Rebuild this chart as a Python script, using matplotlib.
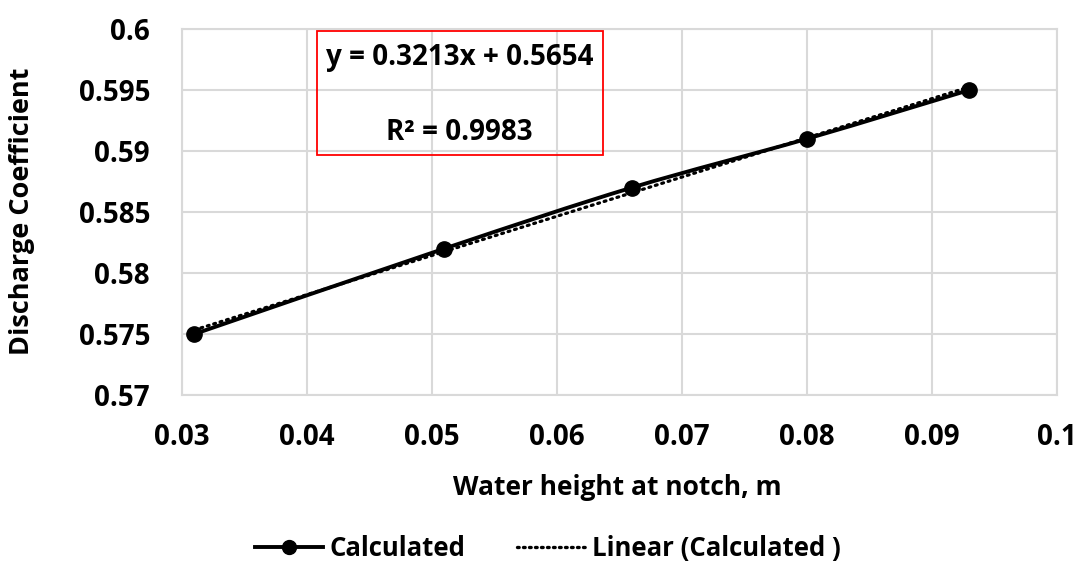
import matplotlib
matplotlib.use('Agg')
import matplotlib.pyplot as plt
from matplotlib.path import Path
from matplotlib.patches import PathPatch, Rectangle
from matplotlib.lines import Line2D
import numpy as np

# data
water_height = [0.031, 0.051, 0.066, 0.080, 0.093]
discharge_coef = [0.575, 0.582, 0.587, 0.591, 0.595]
x_ticks = [0.03, 0.04, 0.05, 0.06, 0.07, 0.08, 0.09, 0.1]
y_ticks = [0.57, 0.575, 0.58, 0.585, 0.59, 0.595, 0.6]
x_labels = ['0.03', '0.04', '0.05', '0.06', '0.07', '0.08', '0.09', '0.1']
y_labels = ['0.57', '0.575', '0.58', '0.585', '0.59', '0.595', '0.6']

plt.rcParams['font.family'] = ['Open Sans', 'DejaVu Sans']
plt.rcParams['font.weight'] = 'bold'

fig = plt.figure(figsize=(10.78, 5.68), dpi=100)
ax = fig.add_axes([0.1688, 0.3046, 0.8117, 0.6444])

x = np.array(water_height)
y = np.array(discharge_coef)

# smoothed series line (Excel-style cardinal spline as bezier segments)
verts = [(x[0], y[0])]
codes = [Path.MOVETO]
for i in range(len(x) - 1):
    p0 = (x[max(i - 1, 0)], y[max(i - 1, 0)])
    p1 = (x[i], y[i])
    p2 = (x[i + 1], y[i + 1])
    p3 = (x[min(i + 2, len(x) - 1)], y[min(i + 2, len(x) - 1)])
    c1 = (p1[0] + (p2[0] - p0[0]) / 6, p1[1] + (p2[1] - p0[1]) / 6)
    c2 = (p2[0] - (p3[0] - p1[0]) / 6, p2[1] - (p3[1] - p1[1]) / 6)
    verts += [c1, c2, p2]
    codes += [Path.CURVE4] * 3
ax.add_patch(PathPatch(Path(verts, codes), fill=False, edgecolor='black', lw=2.8, zorder=3))
ax.plot(x, y, linestyle='none', marker='o', markersize=11, color='black', zorder=4)

# linear trendline
slope, intercept = np.polyfit(x, y, 1)
xt = np.array([x.min(), x.max()])
ax.plot(xt, slope * xt + intercept, color='black', lw=2.3, linestyle=(0, (0.6, 1.5)),
        dash_capstyle='round', zorder=2)

ax.set_xlim(0.03, 0.1)
ax.set_ylim(0.57, 0.6)
ax.set_xticks(x_ticks)
ax.set_xticklabels(x_labels)
ax.set_yticks(y_ticks)
ax.set_yticklabels(y_labels)
ax.tick_params(length=0, labelsize=20)
ax.tick_params(axis='y', pad=23)
ax.tick_params(axis='x', pad=20)
ax.grid(True, color='#d9d9d9', lw=1.5)
ax.set_axisbelow(True)
for s in ax.spines.values():
    s.set_color('#d9d9d9')
    s.set_linewidth(1.5)

ax.set_xlabel('Water height at notch, m', fontsize=19, fontweight='bold', va='center')
ax.xaxis.set_label_coords(0.497, -0.254)
ax.set_ylabel('Discharge Coefficient', fontsize=19.5, fontweight='bold', va='center')
ax.yaxis.set_label_coords(-0.183, 0.501)

# equation box
ax.add_patch(Rectangle((0.0408, 0.58967), 0.06368 - 0.0408, 0.59984 - 0.58967,
                       fill=False, edgecolor='red', lw=1.3, clip_on=False, zorder=5))
ax.text(0.0522, 0.5977, f'y = {slope:.4f}x + {intercept:.4f}', ha='center', va='center',
        fontsize=20, fontweight='bold')
ax.text(0.0522, 0.5915, f'R² = 0.9983', ha='center', va='center',
        fontsize=20, fontweight='bold')

handles = [
    Line2D([], [], color='black', lw=2.8, marker='o', markersize=10),
    Line2D([], [], color='black', lw=2.4, linestyle=(0, (0.5, 1.3)), dash_capstyle='round'),
]
fig.legend(handles, ['Calculated', 'Linear (Calculated )'], loc='center',
           bbox_to_anchor=(0.508, 0.035), ncol=2, frameon=False, fontsize=18.5,
           handlelength=2.65, columnspacing=2.0, handletextpad=0.27)

fig.savefig('out.png', dpi=100)
